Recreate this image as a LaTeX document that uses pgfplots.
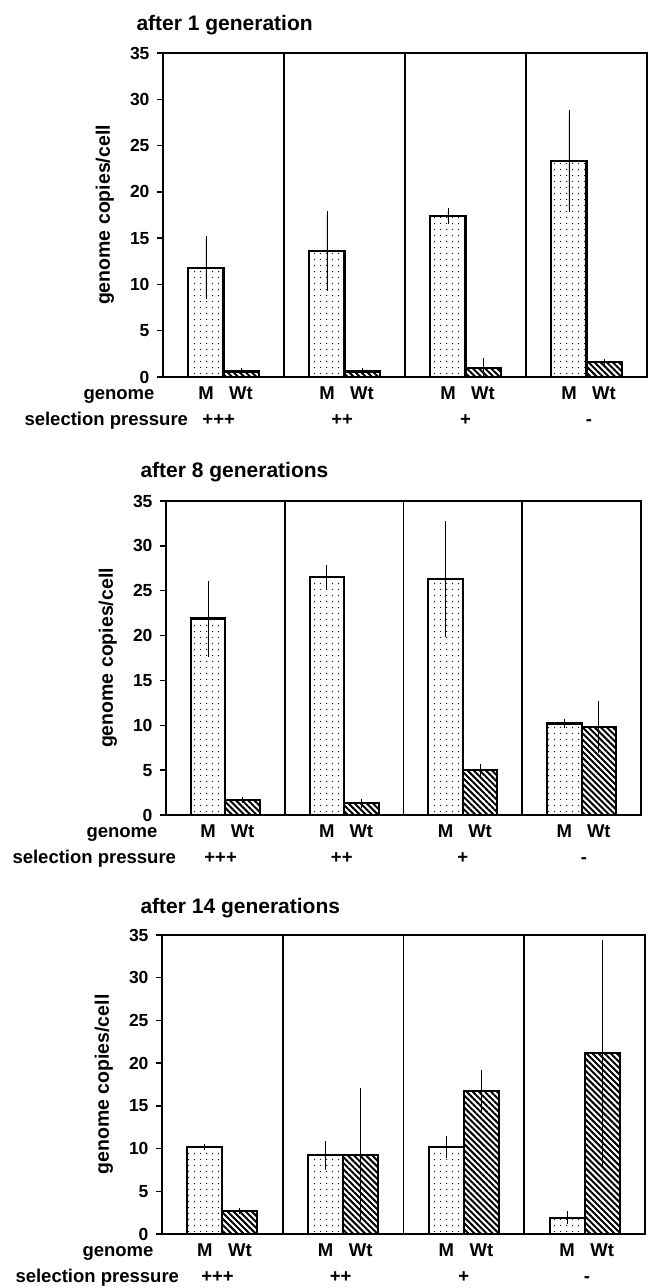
\documentclass[border=0pt]{standalone}
\usepackage{fontspec}
\setmainfont{Liberation Sans}
\usepackage{pgfplots}
\pgfplotsset{compat=1.18}
\usetikzlibrary{patterns.meta}

\newcommand\tickfont{\bfseries\fontsize{17.5bp}{17.5bp}\selectfont}
\newcommand\labfont{\bfseries\fontsize{18.5bp}{18.5bp}\selectfont}
\newcommand\ylabfont{\bfseries\fontsize{19.5bp}{19.5bp}\selectfont}
\newcommand\titlefont{\bfseries\fontsize{21bp}{21bp}\selectfont}

% sparse dots for the M bars
\pgfdeclarepattern{
  name=mdots,
  type=uncolored,
  bottom left={\pgfpoint{0bp}{0bp}},
  top right={\pgfpoint{6.2bp}{6bp}},
  tile size={\pgfpoint{6.2bp}{6bp}},
  code={\pgfpathcircle{\pgfpoint{3bp}{3bp}}{0.75bp}\pgfusepath{fill}}
}

\pgfplotsset{
  panel/.style={
    scale only axis, anchor=south west,
    xmin=0, xmax=4, ymin=0, ymax=35,
    ytick={0,5,...,35}, ytick pos=left, tick align=outside,
    major tick length=6bp,
    ytick style={line width=1.5bp, black},
    xtick={0.355,0.645,1.355,1.645,2.355,2.645,3.355,3.645},
    xticklabels={M,Wt,M,Wt,M,Wt,M,Wt},
    xtick style={draw=none},
    extra x ticks={1,2,3}, extra x tick labels={},
    extra x tick style={grid=major, major grid style={black, line width=1.8bp}, tick style={draw=none}},
    axis line style={line width=2.2bp},
    /pgf/number format/assume math mode=true,
    yticklabel style={font=\tickfont, xshift=-4bp},
    xticklabel style={font=\labfont, anchor=base, yshift=-16bp},
    clip=false,
    ybar, bar width=0.29,
  },
  mbar/.style={draw=black, line width=2.1bp, pattern=mdots, bar shift=0pt,
    error bars/.cd, y dir=both, y explicit,
    error bar style={line width=0.9bp, black},
    error mark options={line width=0.9bp, black, mark size=3bp}},
  wbar/.style={draw=black, line width=2.1bp,
    pattern={Lines[angle=-45, distance=4.3bp, line width=2bp]}, bar shift=0pt,
    error bars/.cd, y dir=both, y explicit,
    error bar style={line width=0.9bp, black},
    error mark options={line width=0.9bp, black, mark size=3bp}},
}

\newcommand\panellabels[1]{%
  \node[anchor=base east, xshift=-5bp, yshift=-22bp, font=\labfont] at (rel axis cs:0,0) {genome};
  \node[anchor=base west, xshift=#1, yshift=-48bp, font=\labfont] at (rel axis cs:0,0) {selection pressure};
  \node[anchor=base, yshift=-48bp, font=\labfont] at (axis cs:0.46,0) {+++};
  \node[anchor=base, yshift=-48bp, font=\labfont] at (axis cs:1.48,0) {++};
  \node[anchor=base, yshift=-48bp, font=\labfont] at (axis cs:2.5,0) {+};
  \node[anchor=base, yshift=-48bp, font=\labfont] at (axis cs:3.52,0) {-};
  \node[xshift=-58bp, rotate=90, font=\ylabfont] at (rel axis cs:0,0.5) {genome copies/cell};
}

\begin{document}
\begin{tikzpicture}
\path[use as bounding box] (0,0) rectangle (650bp,-1288bp);

% after 1 generation
\begin{axis}[panel, at={(163bp,-377bp)}, width=484bp, height=324bp]
\addplot[mbar] coordinates {(0.355,11.8) +- (0,3.1) (1.355,13.6) +- (0,4.0) (2.355,17.4) +- (0,0.5) (3.355,23.3) +- (0,5.2)};
\addplot[wbar] coordinates {(0.645,0.6) +- (0,0) (1.645,0.6) +- (0,0) (2.645,1.0) +- (0,0.7) (3.645,1.6) +- (0,0)};
\panellabels{-142bp}
\node[anchor=base west, xshift=-30bp, yshift=23bp, font=\titlefont] at (rel axis cs:0,1) {after 1 generation};
\end{axis}

% after 8 generations
\begin{axis}[panel, at={(166bp,-815bp)}, width=475bp, height=314bp]
\addplot[mbar] coordinates {(0.355,21.9) +- (0,3.9) (1.355,26.5) +- (0,1.0) (2.355,26.3) +- (0,6.1) (3.355,10.2) +- (0,0.2)};
\addplot[wbar] coordinates {(0.645,1.7) +- (0,0) (1.645,1.3) +- (0,0.2) (2.645,5.0) +- (0,0.4) (3.645,9.8) +- (0,2.6)};
\panellabels{-157bp}
\node[anchor=base west, xshift=-29bp, yshift=24bp, font=\titlefont] at (rel axis cs:0,1) {after 8 generations};
\end{axis}

% after 14 generations
\begin{axis}[panel, at={(162bp,-1234bp)}, width=483bp, height=299bp]
\addplot[mbar] coordinates {(0.355,10.2) +- (0,0) (1.355,9.2) +- (0,1.3) (2.355,10.2) +- (0,0.9) (3.355,1.9) +- (0,0.4)};
\addplot[wbar] coordinates {(0.645,2.7) +- (0,0) (1.645,9.3) +- (0,7.4) (2.645,16.7) +- (0,2.1) (3.645,21.2) +- (0,12.9)};
\panellabels{-150bp}
\node[anchor=base west, xshift=-25bp, yshift=22bp, font=\titlefont] at (rel axis cs:0,1) {after 14 generations};
\end{axis}
\end{tikzpicture}
\end{document}
